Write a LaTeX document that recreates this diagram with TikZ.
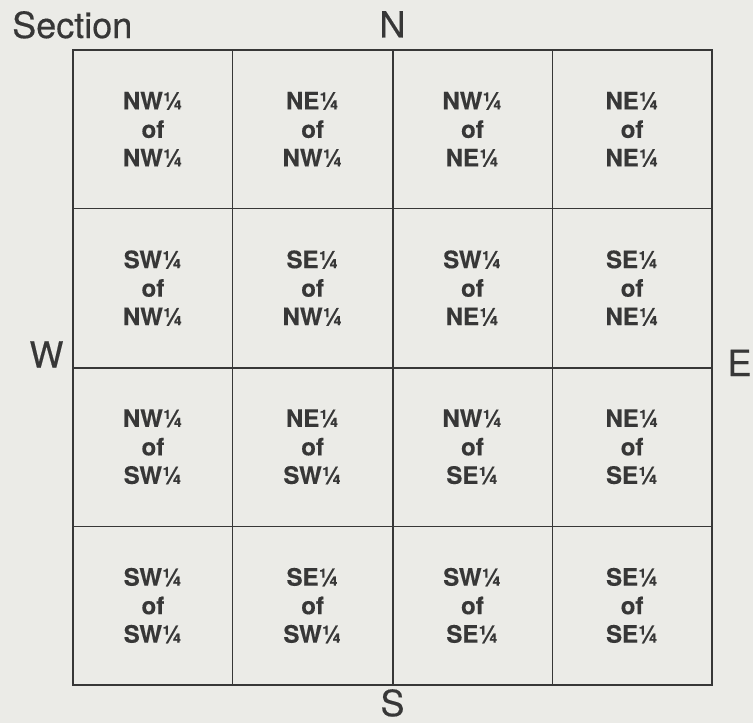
\documentclass[tikz,border=0pt]{standalone}
\usepackage{fontspec}
\setmainfont{TeX Gyre Heros}[FakeBold = 0.4]
\usetikzlibrary{positioning}
\definecolor{paper}{RGB}{235,235,231}
\definecolor{ink}{RGB}{55,55,55}

\begin{document}
\begin{tikzpicture}
      [x = 1pt, y = -1pt,
      frame/.style = {
         draw = ink,
         line width = 2pt,
         minimum width = 639pt,
         minimum height = 635pt,
         inner sep = 0pt
      },
      cell/.style = {
         draw = ink,
         line width = 1.2pt,
         minimum width = 159.75pt,
         minimum height = 158.75pt,
         inner sep = 0pt,
         align = center,
         text = ink,
         font = \fontsize{24}{28.5}\selectfont\bfseries
      },
      compass/.style = {
         text = ink,
         font = \fontsize{36}{40}\selectfont
      }]

      \useasboundingbox (0, 0) rectangle (753, 723);
      \fill[paper] (0, 0) rectangle (753, 723);

      % sixteenths
      \foreach \r/\y/\sr/\qr in {1/129.4/N/N, 2/288.1/S/N, 3/446.9/N/S, 4/605.6/S/S}
         \foreach \c/\x/\sc/\qc in {1/152.9/W/W, 2/312.6/E/W, 3/472.4/W/E, 4/632.1/E/E}
            \node[cell] (c\r\c) at (\x, \y) {\sr\sc¼\\of\\\qr\qc¼};

      \node[frame] (sec) at (392.5, 367.5) {};

      % quarter lines
      \draw[ink, line width = 2pt] (sec.north) -- (sec.south);
      \draw[ink, line width = 2pt] (sec.west) -- (sec.east);

      \node[compass, above = 8pt of sec.north] (north) {N};
      \node[compass, inner sep = 1pt, below = 2pt of sec.south] (south) {S};
      \node[compass, anchor = base east] (west) at ([xshift = -5pt]sec.west) {W};
      \node[compass, anchor = base west] (east) at ([xshift = 11pt, yshift = -8.5pt]sec.east) {E};
      \node[compass, anchor = base west] (title) at (8.7, 38) {Section};

\end{tikzpicture}
\end{document}
